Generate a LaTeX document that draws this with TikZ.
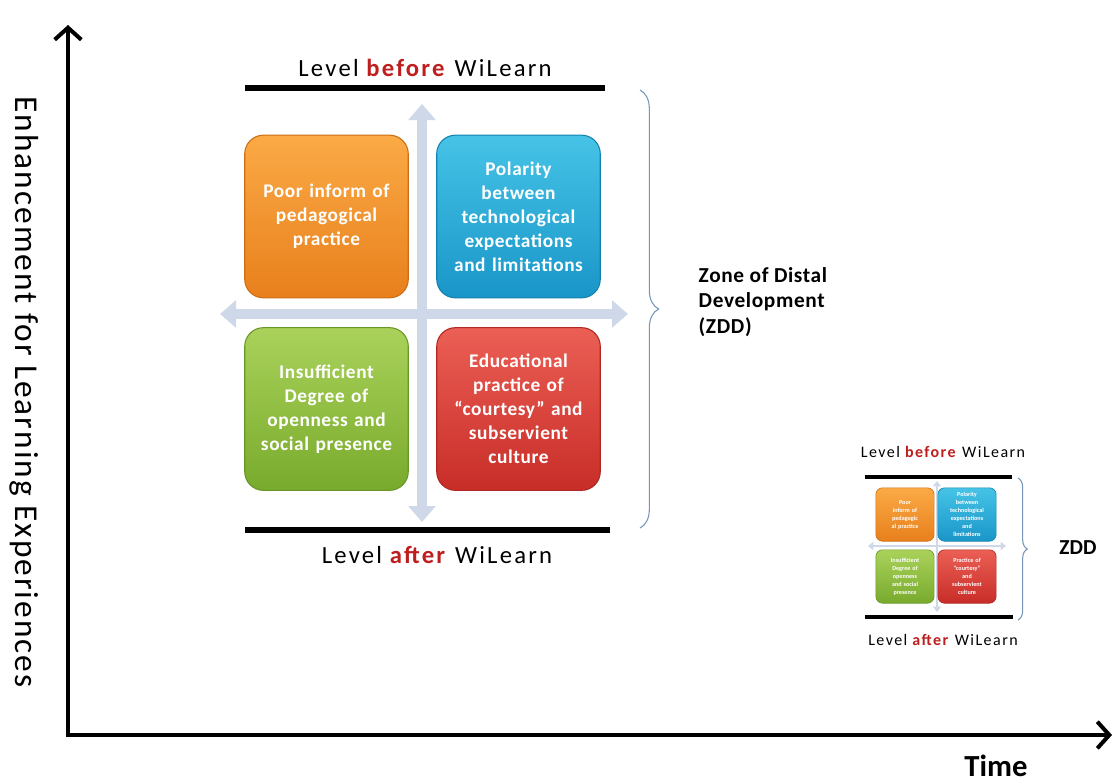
\documentclass[tikz,border=0pt]{standalone}
\usepackage{fontspec}
\setmainfont{Carlito}
\usetikzlibrary{arrows.meta}
\usetikzlibrary{decorations.pathreplacing}

\definecolor{lvred}{RGB}{190,30,30}
\definecolor{crossblue}{RGB}{206,216,232}
\definecolor{bracecol}{RGB}{120,150,185}
\definecolor{orTop}{RGB}{250,170,70}
\definecolor{orBot}{RGB}{232,128,28}
\definecolor{orEdge}{RGB}{205,110,20}
\definecolor{blTop}{RGB}{70,195,230}
\definecolor{blBot}{RGB}{25,150,200}
\definecolor{blEdge}{RGB}{20,130,175}
\definecolor{grTop}{RGB}{170,210,90}
\definecolor{grBot}{RGB}{120,170,45}
\definecolor{grEdge}{RGB}{105,150,40}
\definecolor{rdTop}{RGB}{235,95,85}
\definecolor{rdBot}{RGB}{200,45,40}
\definecolor{rdEdge}{RGB}{175,40,35}

\newcommand{\spaced}[1]{\addfontfeature{LetterSpace=#1}}

\begin{document}
\begin{tikzpicture}[x=0.75pt, y=-0.75pt,
    card/.style={rounded corners=14pt, minimum width=122pt, minimum height=122pt, text width=116pt, align=center,
        text=white, line width=0.8pt, font=\bfseries\fontsize{14.5}{18}\selectfont\spaced{3}},
    minicard/.style={rounded corners=5pt, minimum width=40pt, minimum height=40pt, text width=37pt, align=center,
        text=white, line width=0.5pt, font=\bfseries\fontsize{4.6}{6}\selectfont},
    cross/.style={draw=crossblue, line width=7.5pt, {Triangle[width=20pt,length=12pt]}-{Triangle[width=20pt,length=12pt]}},
    minicross/.style={draw=crossblue, line width=2pt, {Triangle[width=6pt,length=4pt]}-{Triangle[width=6pt,length=4pt]}},
    bar/.style={draw, line width=3.8pt},
    minibar/.style={draw, line width=2.5pt},
    zone/.style={draw=bracecol, line width=0.8pt, decorate, decoration={brace, amplitude=#1}},
    axis/.style={line width=3pt, {Straight Barb[length=9pt,width=20pt]}-{Straight Barb[length=9pt,width=20pt]}}]
    \useasboundingbox (0,0) rectangle (1115,783);

    % axes
    \coordinate (ytip) at (68,25);
    \coordinate (o) at (68,735);
    \coordinate (xtip) at (1112,735);
    \draw[axis] (ytip) -- (o) -- (xtip);
    \node[rotate=-90, font=\fontsize{25}{25}\selectfont\spaced{6}] (ylab) at (24,392) {Enhancement for Learning Experiences};
    \node[font=\bfseries\fontsize{23}{23}\selectfont] (time) at (996,766) {Time};

    % large diagram
    \coordinate (vt) at (422,104);
    \coordinate (vb) at (422,522);
    \coordinate (hl) at (220,314);
    \coordinate (hr) at (628,314);
    \draw[cross] (vt) -- (vb);
    \draw[cross] (hl) -- (hr);

    \node[card, top color=orTop, bottom color=orBot, draw=orEdge] (poor) at (326.5,216.5) {Poor inform of\\ pedagogical\\ practice};
    \node[card, top color=blTop, bottom color=blBot, draw=blEdge] (polar) at (518.5,216.5) {Polarity\\ between\\ technological\\ expectations\\ and limitations};
    \node[card, top color=grTop, bottom color=grBot, draw=grEdge] (insuff) at (326.5,409) {Insufficient\\ Degree of\\ openness and\\ social presence};
    \node[card, top color=rdTop, bottom color=rdBot, draw=rdEdge] (courtesy) at (518.5,409) {Educational\\ practice of\\ ``courtesy'' and\\ subservient\\ culture};

    \coordinate (bl) at (245,88);
    \coordinate (br) at (605,88);
    \coordinate (al) at (245,530);
    \coordinate (ar) at (610,530);
    \draw[bar] (bl) -- (br);
    \draw[bar] (al) -- (ar);
    \node[font=\fontsize{18.5}{18.5}\selectfont\spaced{9}] (before) at (425,68) {Level \textcolor{lvred}{\textbf{before}} WiLearn};
    \node[font=\fontsize{18.5}{18.5}\selectfont\spaced{9}] (after) at (437,555) {Level \textcolor{lvred}{\textbf{after}} WiLearn};

    \coordinate (zt) at (640,90);
    \coordinate (zb) at (640,528);
    \draw[zone=14pt] (zt) -- (zb);
    \node[anchor=west, align=left, font=\bfseries\fontsize{16}{19}\selectfont\spaced{3}] (zdd) at (694,302) {Zone of Distal\\ Development\\ (ZDD)};

    % small copy
    \coordinate (svt) at (937,481);
    \coordinate (svb) at (937,612);
    \coordinate (shl) at (868,546);
    \coordinate (shr) at (1006,546);
    \draw[minicross] (svt) -- (svb);
    \draw[minicross] (shl) -- (shr);

    \node[minicard, top color=orTop, bottom color=orBot, draw=orEdge] (spoor) at (905,514.5) {Poor\\ inform of\\ pedagogic\\ al practice};
    \node[minicard, top color=blTop, bottom color=blBot, draw=blEdge] (spolar) at (967,514.5) {Polarity\\ between\\ technological\\ expectations\\ and\\ limitations};
    \node[minicard, top color=grTop, bottom color=grBot, draw=grEdge] (sinsuff) at (905,576.5) {Insufficient\\ Degree of\\ openness\\ and social\\ presence};
    \node[minicard, top color=rdTop, bottom color=rdBot, draw=rdEdge] (scourtesy) at (967,576.5) {Practice of\\ ``courtesy''\\ and\\ subservient\\ culture};

    \coordinate (sbl) at (865,477);
    \coordinate (sbr) at (1012,477);
    \coordinate (sal) at (865,617);
    \coordinate (sar) at (1013,617);
    \draw[minibar] (sbl) -- (sbr);
    \draw[minibar] (sal) -- (sar);
    \node[font=\fontsize{12}{12}\selectfont\spaced{9}] (sbefore) at (943,452) {Level \textcolor{lvred}{\textbf{before}} WiLearn};
    \node[font=\fontsize{12}{12}\selectfont\spaced{9}] (safter) at (943,640) {Level \textcolor{lvred}{\textbf{after}} WiLearn};

    \coordinate (szt) at (1018,478);
    \coordinate (szb) at (1018,620);
    \draw[zone=7pt] (szt) -- (szb);
    \node[font=\bfseries\fontsize{16}{16}\selectfont] (szdd) at (1078,548) {ZDD};
\end{tikzpicture}
\end{document}
